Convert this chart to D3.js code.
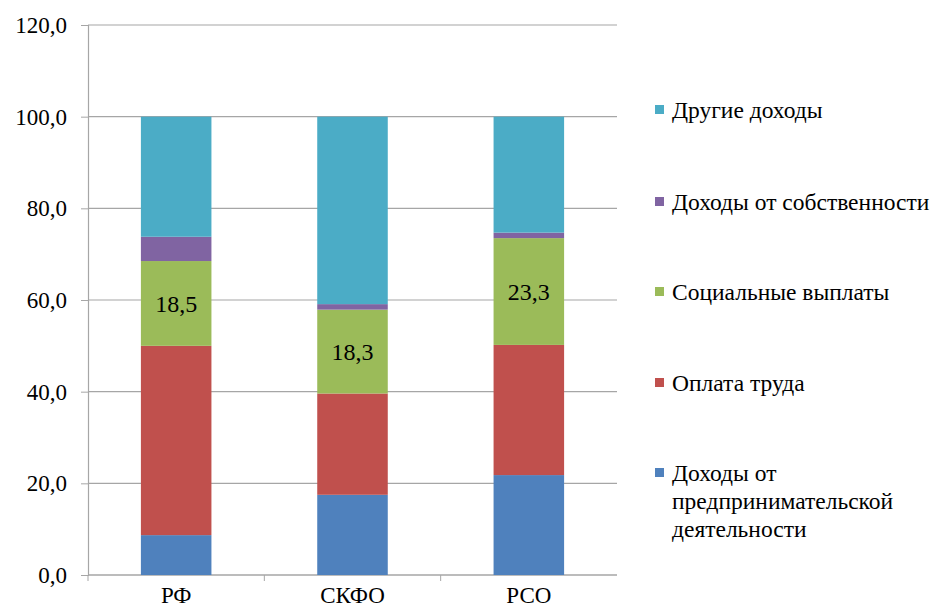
<!DOCTYPE html>
<html>
<head>
<meta charset="utf-8">
<script src="https://cdn.jsdelivr.net/npm/d3@7"></script>
<style>
  body { margin: 0; background: #fff; }
  svg, svg text { font-family: "Liberation Serif", "Times New Roman", Tinos, "DejaVu Serif", "Noto Serif", serif; }
</style>
</head>
<body>
<script>
// категории и ряды
var regions = ["РФ", "СКФО", "РСО"];
var seriesNames = ["Доходы от предпринимательской деятельности", "Оплата труда", "Социальные выплаты", "Доходы от собственности", "Другие доходы"];
var business = [8.7, 17.5, 21.8];
var wages = [41.3, 22.1, 28.4];
var social = [18.5, 18.3, 23.3];
var property = [5.3, 1.2, 1.2];
var other = [26.2, 40.9, 25.3];
var colors = ["#4f81bd", "#c0504d", "#9bbb59", "#8064a2", "#4bacc6"];
var yTicks = [0, 20, 40, 60, 80, 100, 120];

var width = 946, height = 612;
var plot = { left: 88, right: 617, top: 25, bottom: 575 };
var serif = '"Liberation Serif", "Times New Roman", Tinos, "DejaVu Serif", "Noto Serif", serif';

var values = [business, wages, social, property, other];
var data = regions.map(function (r, i) {
    var d = { region: r };
    seriesNames.forEach(function (s, k) { d[s] = values[k][i]; });
    return d;
});

var layers = d3.stack().keys(seriesNames)(data);

var x = d3.scaleBand().domain(regions)
    .range([plot.left, plot.right])
    .paddingInner(0.6).paddingOuter(0.3);
var xCat = d3.scaleBand().domain(regions).range([plot.left, plot.right]);
var y = d3.scaleLinear().domain([0, 120]).range([plot.bottom, plot.top]);

var svg = d3.select("body").append("svg")
    .attr("width", width)
    .attr("height", height);

// сетка
svg.append("g").selectAll("line")
    .data(yTicks)
    .enter().append("line")
    .attr("x1", plot.left).attr("x2", plot.right)
    .attr("y1", function (d) { return y(d); })
    .attr("y2", function (d) { return y(d); })
    .attr("stroke", "#a6a6a6")
    .attr("stroke-width", 1.2);

// ось Y
var yAxis = d3.axisLeft(y).tickValues(yTicks).tickSize(7).tickPadding(14)
    .tickFormat(function (d) { return d3.format(".1f")(d).replace(".", ","); });
var gy = svg.append("g")
    .attr("transform", "translate(" + plot.left + ",0)")
    .call(yAxis)
    .attr("font-family", serif);
gy.select(".domain").attr("stroke", "#a6a6a6").attr("stroke-width", 1.2);
gy.selectAll(".tick line").attr("stroke", "#a6a6a6");
gy.selectAll("text").attr("font-size", 23).attr("fill", "#000");

// ось X
var xAxis = d3.axisBottom(x).tickSize(0).tickPadding(12);
var gx = svg.append("g")
    .attr("transform", "translate(0," + plot.bottom + ")")
    .call(xAxis)
    .attr("font-family", serif);
gx.select(".domain").remove();
gx.selectAll("text").attr("font-size", 23).attr("fill", "#000");
svg.append("line")
    .attr("x1", plot.left).attr("x2", plot.right)
    .attr("y1", plot.bottom).attr("y2", plot.bottom)
    .attr("stroke", "#a6a6a6").attr("stroke-width", 1.2);
svg.append("g").selectAll("line")
    .data(regions)
    .enter().append("line")
    .attr("x1", function (d) { return xCat(d); })
    .attr("x2", function (d) { return xCat(d); })
    .attr("y1", plot.bottom).attr("y2", plot.bottom + 6)
    .attr("stroke", "#a6a6a6");

// столбцы
var layer = svg.append("g").selectAll("g")
    .data(layers)
    .enter().append("g")
    .attr("fill", function (d, i) { return colors[i]; });
layer.selectAll("rect")
    .data(function (d) { return d; })
    .enter().append("rect")
    .attr("x", function (d) { return x(d.data.region); })
    .attr("width", x.bandwidth())
    .attr("y", function (d) { return y(d[1]); })
    .attr("height", function (d) { return y(d[0]) - y(d[1]); });

// подписи социальных выплат
svg.append("g").selectAll("text")
    .data(layers[2])
    .enter().append("text")
    .attr("x", function (d) { return x(d.data.region) + x.bandwidth() / 2; })
    .attr("y", function (d) { return (y(d[0]) + y(d[1])) / 2; })
    .attr("dy", "0.35em")
    .attr("text-anchor", "middle")
    .attr("font-size", 24)
    .attr("fill", "#000")
    .text(function (d) { return d3.format(".1f")(d[1] - d[0]).replace(".", ","); });

// легенда
var legendY = [110, 202, 292, 383, 473];
var legendLines = [
    ["Другие доходы"],
    ["Доходы от собственности"],
    ["Социальные выплаты"],
    ["Оплата труда"],
    ["Доходы от", "предпринимательской", "деятельности"]
];
var legendColors = colors.slice().reverse();
var legend = svg.append("g").selectAll("g")
    .data(legendLines)
    .enter().append("g")
    .attr("transform", function (d, i) { return "translate(655," + legendY[i] + ")"; });
legend.append("rect")
    .attr("x", 0).attr("y", -5)
    .attr("width", 9).attr("height", 9)
    .attr("fill", function (d, i) { return legendColors[i]; });
legend.append("text")
    .attr("font-size", 23.5)
    .attr("fill", "#000")
    .selectAll("tspan")
    .data(function (d) { return d; })
    .enter().append("tspan")
    .attr("x", 17)
    .attr("y", function (d, i) { return i * 28; })
    .attr("dy", "0.35em")
    .text(function (d) { return d; });
</script>
</body>
</html>
